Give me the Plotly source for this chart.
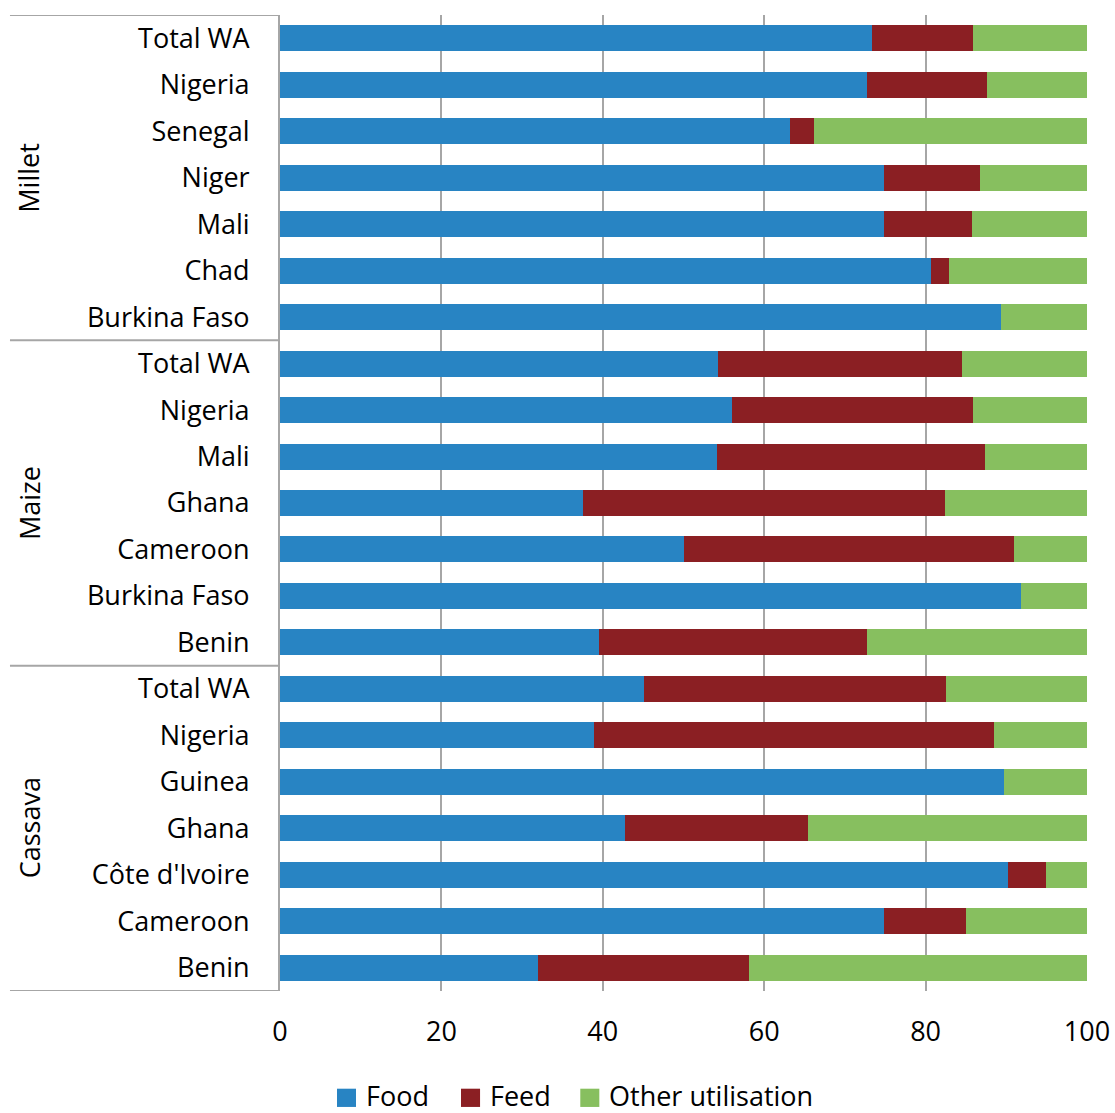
import plotly.graph_objects as go

# Utilisation shares (%) by crop and country
crops = ["Millet", "Maize", "Cassava"]

millet_countries = ["Total WA", "Nigeria", "Senegal", "Niger", "Mali", "Chad", "Burkina Faso"]
millet_food = [73.4, 72.7, 63.2, 74.8, 74.8, 80.7, 89.3]
millet_feed = [12.5, 14.9, 3.0, 12.0, 10.9, 2.2, 0.0]
millet_other = [14.1, 12.4, 33.8, 13.2, 14.3, 17.1, 10.7]

maize_countries = ["Total WA", "Nigeria", "Mali", "Ghana", "Cameroon", "Burkina Faso", "Benin"]
maize_food = [54.3, 56.0, 54.2, 37.5, 50.1, 91.8, 39.5]
maize_feed = [30.2, 29.9, 33.2, 44.9, 40.9, 0.0, 33.2]
maize_other = [15.5, 14.1, 12.6, 17.6, 9.0, 8.2, 27.3]

cassava_countries = ["Total WA", "Nigeria", "Guinea", "Ghana", "Côte d'Ivoire", "Cameroon", "Benin"]
cassava_food = [45.1, 38.9, 89.7, 42.8, 90.2, 74.9, 32.0]
cassava_feed = [37.4, 49.6, 0.0, 22.6, 4.7, 10.1, 26.1]
cassava_other = [17.5, 11.5, 10.3, 34.6, 5.1, 15.0, 41.9]

x_ticks = [0, 20, 40, 60, 80, 100]

series_names = ["Food", "Feed", "Other utilisation"]
series_colors = ["#2884C3", "#8B1F23", "#87BF5F"]

groups = [
    (millet_countries, millet_food, millet_feed, millet_other),
    (maize_countries, maize_food, maize_feed, maize_other),
    (cassava_countries, cassava_food, cassava_feed, cassava_other),
]

labels, food, feed, other, group_sizes = [], [], [], [], []
for c, f1, f2, f3 in groups:
    labels += c
    food += f1
    feed += f2
    other += f3
    group_sizes.append(len(c))

rows = list(range(len(labels)))
values = [food, feed, other]

FONT = "Open Sans"
GRID = "#A6A6A6"

fig = go.Figure()
for name, col, vals in zip(series_names, series_colors, values):
    fig.add_trace(go.Bar(
        y=rows, x=vals, name=name, orientation="h",
        marker=dict(color=col, line=dict(width=0)),
        showlegend=False,
    ))

fig.update_layout(
    barmode="stack",
    bargap=0.44,
    width=1115, height=1113,
    margin=dict(l=280, r=28, t=15, b=122),
    plot_bgcolor="white", paper_bgcolor="white",
    font=dict(family=FONT, size=27, color="black"),
)

fig.update_xaxes(
    range=[0, 100], tickvals=x_ticks, ticktext=[str(t) for t in x_ticks],
    showgrid=True, gridcolor=GRID, gridwidth=2,
    zeroline=False, showline=False, ticks="", ticklabelstandoff=22,
    tickfont=dict(size=27, family=FONT), automargin=False,
)
fig.update_yaxes(
    range=[len(labels) - 0.5, -0.5], tickvals=rows, ticktext=labels,
    showgrid=False, zeroline=False,
    showline=True, linecolor=GRID, linewidth=2,
    ticks="", ticklabelstandoff=23,
    tickfont=dict(size=27, family=FONT), automargin=False,
)

# Group box: horizontal dividers in the label column
left = -0.3346
edges = [-0.5]
for n in group_sizes:
    edges.append(edges[-1] + n)
for e in edges:
    fig.add_shape(type="line", xref="paper", yref="y",
                  x0=left, x1=0, y0=e, y1=e,
                  line=dict(color=GRID, width=2))

# Rotated crop labels
start = 0
for crop, n in zip(crops, group_sizes):
    fig.add_annotation(
        text=crop, xref="paper", yref="y",
        x=-0.311, y=start + (n - 1) / 2,
        textangle=-90, showarrow=False,
        font=dict(size=27, family=FONT, color="black"),
        xanchor="center", yanchor="middle",
    )
    start += n

# Legend drawn beneath the axis
legend_x = [0.0706, 0.2243, 0.3721]
for name, col, lx in zip(series_names, series_colors, legend_x):
    fig.add_shape(type="rect", xref="paper", yref="paper",
                  x0=lx, x1=lx + 0.0236, y0=-0.1001, y1=-0.1188,
                  fillcolor=col, line=dict(width=0))
    fig.add_annotation(
        text=name, xref="paper", yref="paper",
        x=lx + 0.033, y=-0.1068, showarrow=False,
        xanchor="left", yanchor="middle",
        font=dict(size=27, family=FONT, color="black"),
    )

fig.write_html("out.html")
